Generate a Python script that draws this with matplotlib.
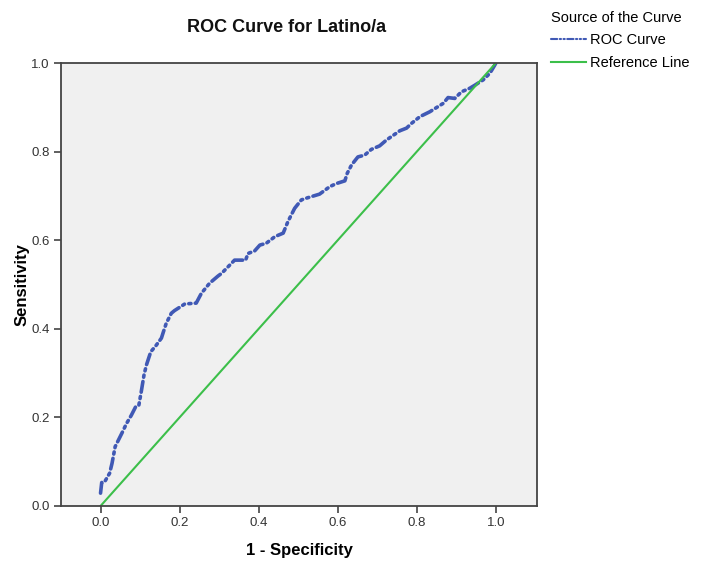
import matplotlib
matplotlib.use("Agg")
import matplotlib.pyplot as plt
from matplotlib import font_manager

names = {f.name for f in font_manager.fontManager.ttflist}
narrow = "Liberation Sans Narrow" if "Liberation Sans Narrow" in names else "Liberation Sans"
plt.rcParams["font.family"] = [narrow, "DejaVu Sans"]

# ROC curve points (1 - specificity, sensitivity)
fpr = [0.000, 0.000, 0.003, 0.010, 0.023, 0.029, 0.037, 0.056, 0.065, 0.078, 0.090,
       0.097, 0.103, 0.110, 0.116, 0.127, 0.141, 0.154, 0.159, 0.166, 0.179, 0.187,
       0.213, 0.242, 0.255, 0.276, 0.297, 0.306, 0.327, 0.339, 0.367, 0.373, 0.390,
       0.403, 0.419, 0.441, 0.462, 0.474, 0.491, 0.508, 0.521, 0.554, 0.580, 0.597,
       0.618, 0.624, 0.635, 0.651, 0.668, 0.685, 0.706, 0.723, 0.757, 0.774, 0.787,
       0.808, 0.833, 0.867, 0.879, 0.896, 0.913, 0.934, 0.947, 0.968, 0.985, 0.997, 1.000]
tpr = [0.000, 0.029, 0.053, 0.054, 0.074, 0.096, 0.134, 0.168, 0.185, 0.205, 0.226,
       0.228, 0.258, 0.296, 0.318, 0.348, 0.363, 0.379, 0.393, 0.412, 0.435, 0.441,
       0.456, 0.458, 0.480, 0.503, 0.519, 0.525, 0.544, 0.555, 0.555, 0.570, 0.576,
       0.589, 0.593, 0.608, 0.616, 0.642, 0.672, 0.691, 0.695, 0.704, 0.721, 0.728,
       0.734, 0.751, 0.770, 0.788, 0.792, 0.805, 0.813, 0.826, 0.847, 0.853, 0.864,
       0.879, 0.890, 0.909, 0.922, 0.920, 0.935, 0.943, 0.950, 0.962, 0.977, 0.995, 1.000]
ref = [0.0, 1.0]
ticks = [0.0, 0.2, 0.4, 0.6, 0.8, 1.0]

fig = plt.figure(figsize=(7.03, 5.70), dpi=100)
ax = fig.add_axes([61 / 703, 64 / 570, 476 / 703, 443 / 570])
ax.set_facecolor("#f0f0f0")

ax.plot(fpr[1:], tpr[1:], color="#4059b5", lw=2.6, dash_capstyle="round",
        dashes=(3, 1.2, 0.6, 1.2, 0.6, 1.2), label="ROC Curve")
ax.plot(ref, ref, color="#3cbf4a", lw=1.5, label="Reference Line")

ax.set_xlim(-0.1, 1.104)
ax.set_ylim(0, 1.0)
ax.set_xticks(ticks)
ax.set_yticks(ticks)
ax.set_xticklabels([f"{t:.1f}" for t in ticks])
ax.set_yticklabels([f"{t:.1f}" for t in ticks])
for s in ax.spines.values():
    s.set_color("#444444")
    s.set_linewidth(1.3)
ax.tick_params(length=5, width=1.2, color="#444444", labelsize=9.5,
               labelcolor="#333333", pad=3)

fig.text(287 / 703, 1 - 28 / 570, "ROC Curve for Latino/a", ha="center", va="center",
         fontsize=13, fontweight="bold", color="#111111")
ax.set_xlabel("1 - Specificity", fontsize=12, fontweight="bold", labelpad=10)
ax.set_ylabel("Sensitivity", fontsize=12, fontweight="bold", labelpad=4)
ax.yaxis.set_label_coords(-(61 - 30) / 476, 0.5)

leg = fig.legend(loc="upper left", bbox_to_anchor=(542 / 703, 1 - 2 / 570),
                 title="Source of the Curve", frameon=False, fontsize=10.5,
                 title_fontsize=10.5, handlelength=2.4, handletextpad=0.3,
                 labelspacing=0.6, alignment="left", borderaxespad=0.2)
leg.legend_handles[0].set_linewidth(1.5)

fig.savefig("out.png", dpi=100)
